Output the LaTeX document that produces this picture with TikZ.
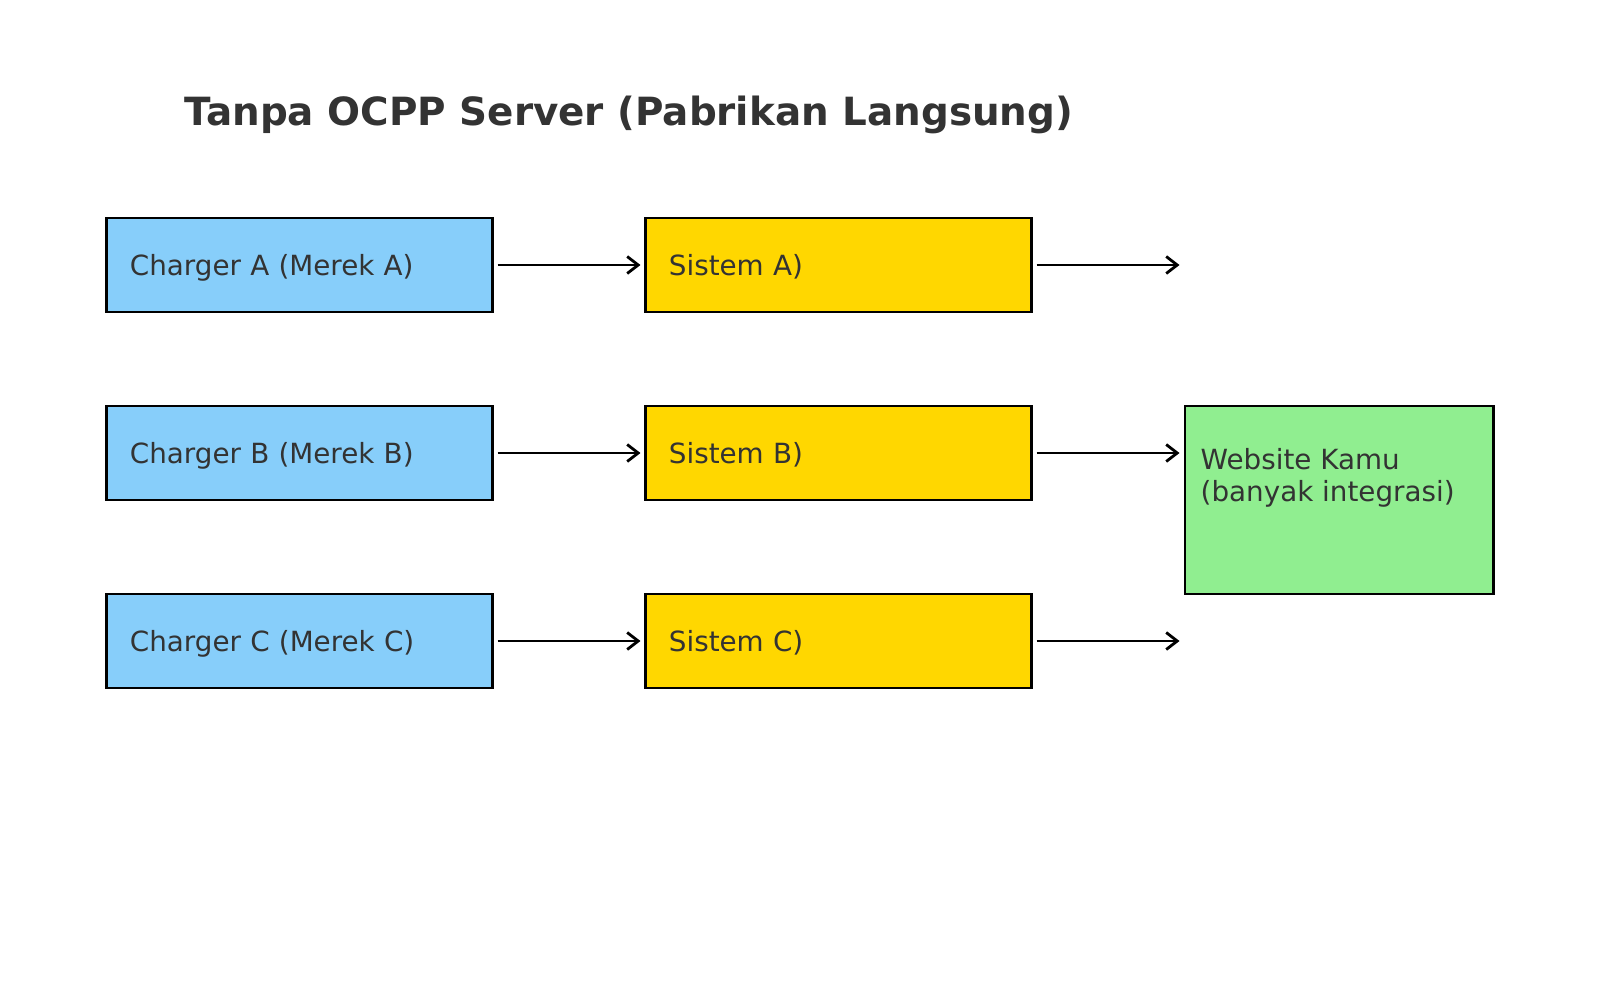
\documentclass[tikz,border=0pt]{standalone}
\usepackage{fontspec}
\setmainfont{DejaVu Sans}
\usetikzlibrary{arrows.meta}
\definecolor{txtgray}{HTML}{333333}
\definecolor{skyblue}{HTML}{87CEFA}
\definecolor{goldbox}{HTML}{FFD700}
\definecolor{lightgreen}{HTML}{90EE90}
\tikzset{
    brandbox/.style={rectangle, draw=black, line width=0.8pt, text=txtgray, align=left,
        text width=3.39cm, inner xsep=0.23cm, minimum height=0.94cm, text depth=0pt,
        font=\fontsize{7.9}{9.1}\selectfont},
    flow/.style={draw=black, line width=0.75pt, -{Straight Barb[length=1.1mm,width=1.7mm,line width=0.8pt]},
        shorten <=0.04cm, shorten >=0.04cm}
}
\begin{document}
\begin{tikzpicture}[x=0.01cm, y=-0.01cm]
    \useasboundingbox (0,0) rectangle (1600,1000);
    \node(title) [anchor=west, text=txtgray, inner sep=0pt, font=\fontsize{11.05}{13}\selectfont\bfseries] at (184,115) {Tanpa OCPP Server (Pabrikan Langsung)};

    % chargers
    \node(chargerA) [brandbox, fill=skyblue] at (299.5,265) {Charger A (Merek A)};
    \node(chargerB) [brandbox, fill=skyblue] at (299.5,453) {Charger B (Merek B)};
    \node(chargerC) [brandbox, fill=skyblue] at (299.5,641) {Charger C (Merek C)};

    % sistem pabrikan
    \node(sistemA) [brandbox, fill=goldbox] at (838.5,265) {Sistem A)};
    \node(sistemB) [brandbox, fill=goldbox] at (838.5,453) {Sistem B)};
    \node(sistemC) [brandbox, fill=goldbox] at (838.5,641) {Sistem C)};

    % website
    \node(website) [rectangle, draw=black, line width=0.8pt, fill=lightgreen, minimum width=3.08cm, minimum height=1.88cm, inner sep=0pt] at (1339,500) {};
    \node(websitetext) [anchor=west, text=txtgray, align=left, inner sep=0pt, font=\fontsize{7.9}{9.1}\selectfont] at (1200,478) {Website Kamu\\(banyak integrasi)};
    \coordinate(endA) at (website.west |- sistemA);
    \coordinate(endC) at (website.west |- sistemC);

    \draw[flow] (chargerA) -- (sistemA);
    \draw[flow] (chargerB) -- (sistemB);
    \draw[flow] (chargerC) -- (sistemC);
    \draw[flow] (sistemA.east) -- (endA);
    \draw[flow] (sistemB.east) -- (website.west |- sistemB);
    \draw[flow] (sistemC.east) -- (endC);
\end{tikzpicture}
\end{document}
